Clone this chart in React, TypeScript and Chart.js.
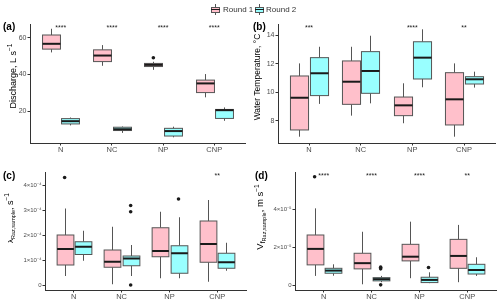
import React, { useEffect, useRef } from "react";
import { Chart, registerables } from "chart.js";
Chart.register(...registerables);

const FONT = "'Liberation Sans', Arial, sans-serif";

const categories = ["N", "NC", "NP", "CNP"];
const roundNames = ["Round 1", "Round 2"];
const roundFills = ["#FFC0CB", "#99FFFF"];

// five-number summaries per category: [lower whisker, Q1, median, Q3, upper whisker]
const dischargeRound1 = [
  [52.0, 53.8, 56.7, 61.5, 64.9],
  [44.7, 47.0, 50.3, 53.4, 56.0],
  [42.5, 44.3, 45.2, 46.0, 46.9],
  [27.5, 30.1, 35.1, 36.9, 40.2],
];
const dischargeRound2 = [
  [12.2, 13.0, 14.5, 15.9, 16.5],
  [8.1, 9.4, 10.1, 11.2, 11.6],
  [5.7, 6.4, 9.1, 10.6, 11.5],
  [14.7, 16.0, 20.5, 20.9, 22.0],
];
const dischargeOutliers1 = [[], [], [49.1], []];
const dischargeOutliers2 = [[], [], [], []];
const dischargeStars = ["****", "****", "****", "****"];
const dischargeTicks = [20, 40, 60];
const dischargeTickLabels = ["20", "40", "60"];

const tempRound1 = [
  [6.9, 7.37, 9.62, 11.14, 12.02],
  [8.37, 9.16, 10.74, 12.19, 13.18],
  [7.84, 8.37, 9.09, 9.67, 10.63],
  [6.9, 7.72, 9.51, 11.37, 12.02],
];
const tempRound2 = [
  [9.19, 9.77, 11.33, 12.42, 13.18],
  [9.23, 9.93, 11.49, 12.84, 13.95],
  [10.35, 10.93, 12.42, 13.53, 14.4],
  [10.33, 10.58, 10.91, 11.09, 11.44],
];
const tempOutliers1 = [[], [], [], []];
const tempOutliers2 = [[], [], [], []];
const tempStars = ["***", "", "****", "**"];
const tempTicks = [8, 10, 12, 14];
const tempTickLabels = ["8", "10", "12", "14"];

const lambdaRound1 = [
  [0.39e-4, 0.83e-4, 1.47e-4, 2.03e-4, 3.09e-4],
  [0.06e-4, 0.74e-4, 0.96e-4, 1.43e-4, 2.36e-4],
  [0.3e-4, 1.16e-4, 1.39e-4, 2.32e-4, 2.96e-4],
  [0.16e-4, 0.94e-4, 1.67e-4, 2.59e-4, 3.43e-4],
];
const lambdaRound2 = [
  [1.0e-4, 1.25e-4, 1.56e-4, 1.76e-4, 2.2e-4],
  [0.39e-4, 0.8e-4, 1.09e-4, 1.19e-4, 1.63e-4],
  [0.3e-4, 0.5e-4, 1.3e-4, 1.6e-4, 2.74e-4],
  [0.6e-4, 0.7e-4, 0.94e-4, 1.3e-4, 1.72e-4],
];
const lambdaOutliers1 = [[4.33e-4], [], [], []];
const lambdaOutliers2 = [[], [3.21e-4, 2.96e-4, 0.03e-4], [3.47e-4], []];
const lambdaStars = ["", "", "", "**"];
const lambdaTicks = [0, 1e-4, 2e-4, 3e-4, 4e-4];
const lambdaTickLabels = ["0", "1×10⁻⁴", "2×10⁻⁴", "3×10⁻⁴", "4×10⁻⁴"];

const vfRound1 = [
  [0.51e-5, 1.09e-5, 1.93e-5, 2.66e-5, 4.06e-5],
  [0.07e-5, 0.88e-5, 1.18e-5, 1.7e-5, 2.83e-5],
  [0.39e-5, 1.3e-5, 1.52e-5, 2.17e-5, 3.36e-5],
  [0.18e-5, 0.91e-5, 1.56e-5, 2.43e-5, 3.19e-5],
];
const vfRound2 = [
  [0.52e-5, 0.65e-5, 0.79e-5, 0.91e-5, 1.12e-5],
  [0.18e-5, 0.25e-5, 0.34e-5, 0.42e-5, 0.51e-5],
  [0.13e-5, 0.16e-5, 0.3e-5, 0.44e-5, 0.7e-5],
  [0.51e-5, 0.61e-5, 0.82e-5, 1.12e-5, 1.49e-5],
];
const vfOutliers1 = [[5.72e-5], [], [], []];
const vfOutliers2 = [[], [0.97e-5, 0.88e-5, 0.04e-5], [0.95e-5], []];
const vfStars = ["****", "****", "****", "**"];
const vfTicks = [0, 2e-5, 4e-5];
const vfTickLabels = ["0", "2×10⁻⁵", "4×10⁻⁵"];

const DODGE = 0.19;
const HALF = 0.175;

type Piece = { t: string; s: number; dy: number };
type Spec = {
  tag: string;
  r1: number[][];
  r2: number[][];
  o1: number[][];
  o2: number[][];
  stars: string[];
  ticks: number[];
  tickLabels: string[];
  yMin: number;
  yMax: number;
  title: Piece[];
  box: { left: number; top: number; width: number; height: number };
  area: { left: number; top: number; right: number; bottom: number };
  titleX: number;
  titleY: number;
  tagX: number;
  tagY: number;
  tickSize: number;
};

const specs: Spec[] = [
  {
    tag: "(a)",
    r1: dischargeRound1, r2: dischargeRound2, o1: dischargeOutliers1, o2: dischargeOutliers2,
    stars: dischargeStars, ticks: dischargeTicks, tickLabels: dischargeTickLabels,
    yMin: 2.6, yMax: 67.5,
    title: [{ t: "Discharge, L s", s: 9, dy: 0 }, { t: "−1", s: 6.5, dy: -3.5 }],
    box: { left: 0, top: 14, width: 250, height: 144 },
    area: { left: 30, top: 24, right: 245, bottom: 143 },
    titleX: 12, titleY: 76, tagX: 3, tagY: 27, tickSize: 7,
  },
  {
    tag: "(b)",
    r1: tempRound1, r2: tempRound2, o1: tempOutliers1, o2: tempOutliers2,
    stars: tempStars, ticks: tempTicks, tickLabels: tempTickLabels,
    yMin: 6.46, yMax: 14.77,
    title: [{ t: "Water Temperature, °C", s: 8.5, dy: 0 }],
    box: { left: 250, top: 14, width: 250, height: 144 },
    area: { left: 278, top: 24, right: 495, bottom: 143 },
    titleX: 256, titleY: 77, tagX: 253, tagY: 27, tickSize: 7,
  },
  {
    tag: "(c)",
    r1: lambdaRound1, r2: lambdaRound2, o1: lambdaOutliers1, o2: lambdaOutliers2,
    stars: lambdaStars, ticks: lambdaTicks, tickLabels: lambdaTickLabels,
    yMin: -0.17e-4, yMax: 4.55e-4,
    title: [
      { t: "λ", s: 8, dy: 0 },
      { t: "Raz,sample", s: 5.5, dy: 2.5 },
      { t: ", s", s: 9, dy: 0 },
      { t: "−1", s: 6.5, dy: -3.5 },
    ],
    box: { left: 0, top: 158, width: 250, height: 146 },
    area: { left: 45, top: 172, right: 246, bottom: 290 },
    titleX: 9, titleY: 218, tagX: 3, tagY: 176, tickSize: 6,
  },
  {
    tag: "(d)",
    r1: vfRound1, r2: vfRound2, o1: vfOutliers1, o2: vfOutliers2,
    stars: vfStars, ticks: vfTicks, tickLabels: vfTickLabels,
    yMin: -0.23e-5, yMax: 5.97e-5,
    title: [
      { t: "V", s: 9.5, dy: 0 },
      { t: "f", s: 7, dy: 2 },
      { t: "Raz,sample", s: 5.5, dy: 3.5 },
      { t: ", m s", s: 9.5, dy: 0 },
      { t: "−1", s: 6.5, dy: -3.5 },
    ],
    box: { left: 250, top: 158, width: 250, height: 146 },
    area: { left: 295, top: 172, right: 496, bottom: 290 },
    titleX: 259, titleY: 217, tagX: 255, tagY: 176, tickSize: 6,
  },
];

function Panel({ spec }: { spec: Spec }) {
  const ref = useRef<HTMLCanvasElement | null>(null);
  useEffect(() => {
    if (!ref.current) return;
    const cl = spec.area.left - spec.box.left;
    const ct = spec.area.top - spec.box.top;
    const cr = spec.box.left + spec.box.width - spec.area.right;
    const cb = spec.box.top + spec.box.height - spec.area.bottom;

    const outlierData = (arr: number[][], off: number) =>
      arr.flatMap((vals, i) => vals.map((v) => ({ x: i + 1 + off, y: v })));

    const boxPlugin = {
      id: "boxes",
      beforeDatasetsDraw(chart: any) {
        const { ctx } = chart;
        const x = chart.scales.x;
        const y = chart.scales.y;
        const half = x.getPixelForValue(1 + HALF) - x.getPixelForValue(1);
        [spec.r1, spec.r2].forEach((series, s) => {
          series.forEach((q, i) => {
            const cx = Math.round(x.getPixelForValue(i + 1 + (s === 0 ? -DODGE : DODGE))) + 0.5;
            const [lo, q1, med, q3, hi] = q.map((v) => y.getPixelForValue(v));
            ctx.save();
            ctx.strokeStyle = "#555555";
            ctx.lineWidth = 1;
            ctx.beginPath();
            ctx.moveTo(cx, hi);
            ctx.lineTo(cx, q3);
            ctx.moveTo(cx, q1);
            ctx.lineTo(cx, lo);
            ctx.stroke();
            ctx.fillStyle = roundFills[s];
            ctx.fillRect(cx - half, q3, 2 * half, q1 - q3);
            ctx.strokeRect(cx - half, q3, 2 * half, q1 - q3);
            ctx.strokeStyle = "#1A1A1A";
            ctx.lineWidth = 2;
            ctx.beginPath();
            ctx.moveTo(cx - half, med);
            ctx.lineTo(cx + half, med);
            ctx.stroke();
            ctx.restore();
          });
        });
      },
      afterDraw(chart: any) {
        const { ctx } = chart;
        const x = chart.scales.x;
        ctx.save();
        // stars
        ctx.fillStyle = "#1A1A1A";
        ctx.font = `7px ${FONT}`;
        ctx.textAlign = "center";
        ctx.textBaseline = "middle";
        spec.stars.forEach((st, i) => {
          if (st) ctx.fillText(st, x.getPixelForValue(i + 1), chart.chartArea.top + 4);
        });
        // tag
        ctx.font = `bold 10px ${FONT}`;
        ctx.textAlign = "left";
        ctx.fillStyle = "#000";
        ctx.fillText(spec.tag, spec.tagX - spec.box.left, spec.tagY - spec.box.top);
        // y title
        ctx.translate(spec.titleX - spec.box.left, spec.titleY - spec.box.top);
        ctx.rotate(-Math.PI / 2);
        let total = 0;
        const widths = spec.title.map((p) => {
          ctx.font = `${p.s}px ${FONT}`;
          const w = ctx.measureText(p.t).width;
          total += w;
          return w;
        });
        let px = -total / 2;
        ctx.textBaseline = "alphabetic";
        spec.title.forEach((p, k) => {
          ctx.font = `${p.s}px ${FONT}`;
          ctx.fillText(p.t, px, 3.5 + p.dy);
          px += widths[k];
        });
        ctx.restore();
      },
    };

    const chart = new Chart(ref.current, {
      type: "scatter",
      data: {
        datasets: [
          {
            label: roundNames[0],
            data: outlierData(spec.o1, -DODGE),
            pointRadius: 1.8,
            pointBackgroundColor: "#1A1A1A",
            pointBorderWidth: 0,
          },
          {
            label: roundNames[1],
            data: outlierData(spec.o2, DODGE),
            pointRadius: 1.8,
            pointBackgroundColor: "#1A1A1A",
            pointBorderWidth: 0,
          },
        ],
      },
      options: {
        animation: false,
        responsive: false,
        devicePixelRatio: 1,
        layout: { padding: { left: 0, top: ct, right: cr, bottom: 0 } },
        plugins: { legend: { display: false }, tooltip: { enabled: false } },
        scales: {
          x: {
            type: "linear",
            min: 0.4,
            max: 4.6,
            afterBuildTicks: (s: any) => {
              s.ticks = categories.map((_, i) => ({ value: i + 1 }));
            },
            afterFit: (s: any) => {
              s.height = cb;
            },
            ticks: {
              autoSkip: false,
              maxRotation: 0,
              color: "#4D4D4D",
              font: { size: 7.5, family: FONT },
              padding: 0,
              callback: (v: any) => categories[Math.round(Number(v)) - 1],
            },
            grid: { display: true, drawOnChartArea: false, drawTicks: true, tickLength: 2.5, color: "#333333" },
            border: { display: true, color: "#333333", width: 1 },
          },
          y: {
            type: "linear",
            min: spec.yMin,
            max: spec.yMax,
            afterBuildTicks: (s: any) => {
              s.ticks = spec.ticks.map((v) => ({ value: v }));
            },
            afterFit: (s: any) => {
              s.width = cl;
            },
            ticks: {
              autoSkip: false,
              color: "#4D4D4D",
              font: { size: spec.tickSize, family: FONT },
              padding: 1,
              callback: (_v: any, i: number) => spec.tickLabels[i],
            },
            grid: { display: true, drawOnChartArea: false, drawTicks: true, tickLength: 2.5, color: "#333333" },
            border: { display: true, color: "#333333", width: 1 },
          },
        },
      },
      plugins: [boxPlugin],
    } as any);
    return () => chart.destroy();
  }, [spec]);

  return (
    <canvas
      ref={ref}
      width={spec.box.width}
      height={spec.box.height}
      style={{ position: "absolute", left: spec.box.left, top: spec.box.top, width: spec.box.width, height: spec.box.height }}
    />
  );
}

function LegendKey({ left, fill }: { left: number; fill: string }) {
  return (
    <div style={{ position: "absolute", left, top: 4, width: 9, height: 11 }}>
      <div style={{ position: "absolute", left: 4, top: 0, width: 1, height: 11, background: "#555" }} />
      <div
        style={{
          position: "absolute", left: 0, top: 2.5, width: 7, height: 4, background: fill,
          border: "1px solid #555",
        }}
      />
      <div style={{ position: "absolute", left: 0, top: 5, width: 9, height: 1, background: "#1A1A1A" }} />
    </div>
  );
}

export default function App() {
  return (
    <div style={{ position: "absolute", left: 0, top: 0, width: 500, height: 304, background: "#fff", fontFamily: FONT }}>
      {specs.map((s) => (
        <Panel key={s.tag} spec={s} />
      ))}
      <LegendKey left={211} fill={roundFills[0]} />
      <div style={{ position: "absolute", left: 223, top: 4, fontSize: 8, lineHeight: "11px", color: "#333" }}>{roundNames[0]}</div>
      <LegendKey left={255} fill={roundFills[1]} />
      <div style={{ position: "absolute", left: 266, top: 4, fontSize: 8, lineHeight: "11px", color: "#333" }}>{roundNames[1]}</div>
    </div>
  );
}
